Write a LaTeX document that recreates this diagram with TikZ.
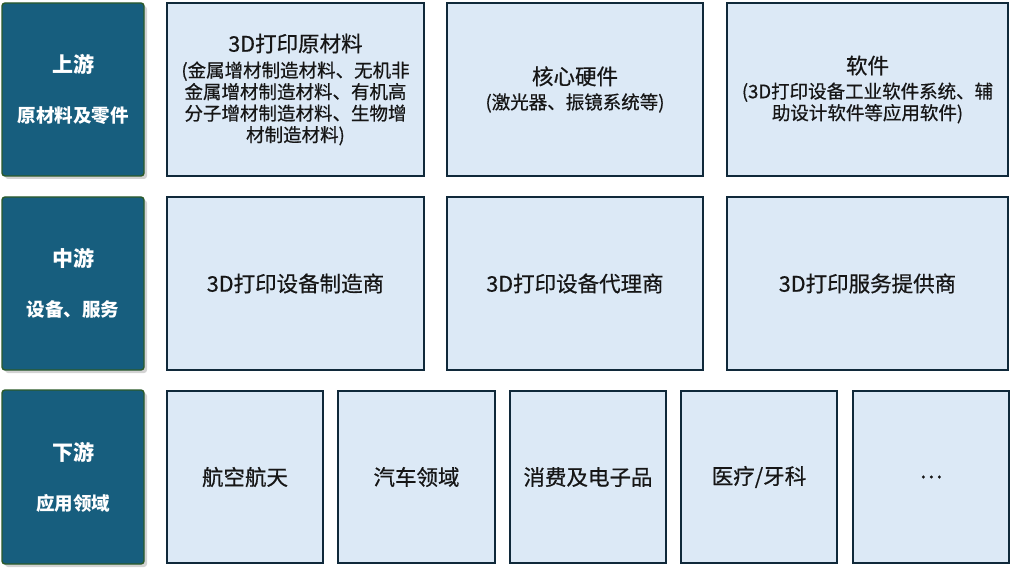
\documentclass[tikz,border=0pt]{standalone}
\usepackage{fontspec}
\setmainfont[FakeBold=0.6]{Noto Sans CJK SC}
\newfontfamily\tierfont{Noto Sans CJK SC}
\usetikzlibrary{shadows}
\definecolor{tierfill}{HTML}{175E7E}
\definecolor{tierline}{HTML}{2B5A2A}
\definecolor{boxfill}{HTML}{DCE9F6}
\definecolor{boxline}{HTML}{10293A}
\definecolor{txt}{HTML}{161616}
\newcommand{\bigf}{\fontsize{21.5}{25}\selectfont}
\newcommand{\smallf}{\fontsize{18.5}{21.5}\selectfont}
\newcommand{\tiert}{\fontsize{21}{24}\selectfont}
\newcommand{\tiers}{\fontsize{18.5}{20}\selectfont}
\tikzset{
  tier/.style={draw=tierline, line width=1.4pt, fill=tierfill, rounded corners=3pt,
    minimum width=142pt, inner sep=0pt, align=center, text=white, font=\tierfont\bfseries\tiers,
    drop shadow={opacity=0.35, shadow xshift=3pt, shadow yshift=-3pt}},
  cell/.style={draw=boxline, line width=2.2pt, fill=boxfill, inner sep=0pt,
    align=center, text=txt},
  big/.style={font=\bigf},
  small/.style={font=\smallf},
}
\begin{document}
\begin{tikzpicture}[x=1pt,y=-1pt]
\useasboundingbox (0,0) rectangle (1017,569);
% tier boxes
\node[tier, minimum height=173pt] (up) at (73,89.5)
  {\tiert 上游\\[30pt]\tiers 原材料及零件};
\node[tier, minimum height=173pt] (mid) at (73,283.5)
  {\tiert 中游\\[30pt]\tiers 设备、服务};
\node[tier, minimum height=174pt] (down) at (73,477)
  {\tiert 下游\\[30pt]\tiers 应用领域};
% upstream
\node[cell, small, minimum width=257pt, minimum height=173pt] (raw) at (295.5,89.5)
  {\bigf 3D打印原材料\\[4pt]
   \smallf (金属增材制造材料、无机非\\金属增材制造材料、有机高\\分子增材制造材料、生物增\\材制造材料)};
\node[cell, small, minimum width=256pt, minimum height=173pt] (hw) at (575,89.5)
  {\bigf 核心硬件\\[3pt]
   \smallf (激光器、振镜系统等)};
\node[cell, small, minimum width=281pt, minimum height=173pt] (sw) at (867.5,89.5)
  {\bigf 软件\\[3pt]
   \smallf (3D打印设备工业软件系统、辅\\助设计软件等应用软件)};
% midstream
\node[cell, big, minimum width=257pt, minimum height=173pt] (mfr) at (295.5,283.5) {3D打印设备制造商};
\node[cell, big, minimum width=256pt, minimum height=173pt] (agent) at (575,283.5) {3D打印设备代理商};
\node[cell, big, minimum width=281pt, minimum height=173pt] (svc) at (867.5,283.5) {3D打印服务提供商};
% downstream
\node[cell, big, minimum width=156pt, minimum height=172pt] (aero) at (245,477) {航空航天};
\node[cell, big, minimum width=157pt, minimum height=172pt] (auto) at (416.5,477) {汽车领域};
\node[cell, big, minimum width=156pt, minimum height=172pt] (cons) at (588,477) {消费及电子品};
\node[cell, big, minimum width=156pt, minimum height=172pt] (med) at (759,477) {医疗/牙科};
\node[cell, big, minimum width=156pt, minimum height=172pt] (more) at (931,477) {…};
\end{tikzpicture}
\end{document}
